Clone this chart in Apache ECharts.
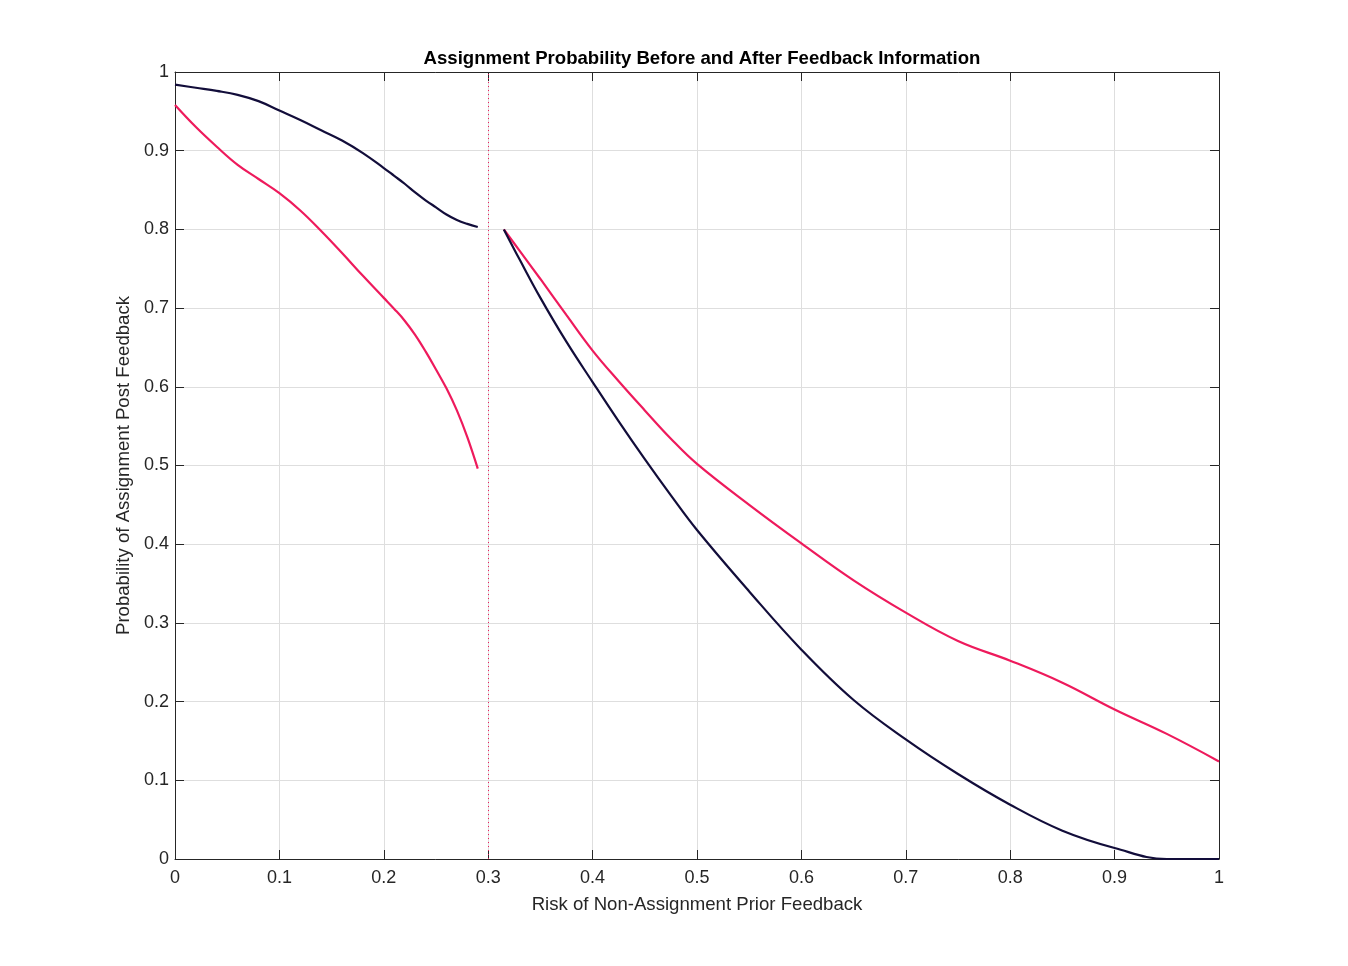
<!DOCTYPE html>
<html>
<head>
<meta charset="utf-8">
<script src="https://cdn.jsdelivr.net/npm/echarts@6/dist/echarts.min.js"></script>
<style>html,body{margin:0;padding:0;background:#fff;}#c{width:1348px;height:966px;}</style>
</head>
<body>
<div id="c"></div>
<script>
// Data
const xLeft    = [0, 0.02, 0.04, 0.06, 0.08, 0.1, 0.12, 0.14, 0.16, 0.18, 0.2, 0.21, 0.22, 0.23, 0.24, 0.25, 0.26, 0.27, 0.28, 0.29];
const darkLeft = [0.984, 0.980, 0.976, 0.971, 0.963, 0.951, 0.939, 0.926, 0.913, 0.897, 0.878, 0.868, 0.858, 0.847, 0.837, 0.828, 0.819, 0.812, 0.807, 0.803];
const pinkLeft = [0.958, 0.930, 0.905, 0.882, 0.864, 0.846, 0.824, 0.798, 0.770, 0.741, 0.713, 0.699, 0.684, 0.666, 0.645, 0.622, 0.598, 0.570, 0.536, 0.496];

const xRight    = [0.315, 0.33, 0.35, 0.375, 0.4, 0.425, 0.45, 0.475, 0.5, 0.55, 0.6, 0.65, 0.7, 0.75, 0.8, 0.85, 0.9, 0.95, 1.0];
const darkRight = [0.800, 0.762, 0.713, 0.657, 0.606, 0.556, 0.508, 0.462, 0.418, 0.340, 0.266, 0.202, 0.152, 0.108, 0.069, 0.036, 0.014, 0.000, 0.000];
const pinkRight = [0.800, 0.773, 0.737, 0.691, 0.646, 0.607, 0.570, 0.534, 0.502, 0.450, 0.401, 0.354, 0.313, 0.277, 0.252, 0.224, 0.190, 0.159, 0.124];

const thresholdX = 0.3;

const titleText = 'Assignment Probability Before and After Feedback Information';
const xName = 'Risk of Non-Assignment Prior Feedback';
const yName = 'Probability of Assignment Post Feedback';

const DARK = '#120d3a';
const PINK = '#ee1a5c';
const pair = (xs, ys) => xs.map((x, i) => [x, ys[i]]);

const font = 'Liberation Sans, Arial, Helvetica, sans-serif';
const axisCol = '#262626';

function mainAxis(pos, name, nameGap, labelMargin) {
  return {
    type: 'value', position: pos, min: 0, max: 1, interval: 0.1,
    name: name, nameLocation: 'middle', nameGap: nameGap,
    nameTextStyle: {fontFamily: font, fontSize: 18.6, color: axisCol},
    axisLine: {show: true, onZero: false, lineStyle: {color: axisCol, width: 1}},
    axisTick: {show: true, inside: true, length: 9, lineStyle: {color: axisCol, width: 1}},
    axisLabel: {fontFamily: font, fontSize: 18, color: axisCol, margin: labelMargin,
      formatter: v => String(Math.round(v * 10) / 10)},
    splitLine: {show: true, lineStyle: {color: '#dedede', width: 1}}
  };
}
function mirrorAxis(pos) {
  return {
    type: 'value', position: pos, min: 0, max: 1, interval: 0.1,
    axisLine: {show: true, onZero: false, lineStyle: {color: axisCol, width: 1}},
    axisTick: {show: true, inside: true, length: 9, lineStyle: {color: axisCol, width: 1}},
    axisLabel: {show: false},
    splitLine: {show: false}
  };
}

const chart = echarts.init(document.getElementById('c'), null, {renderer: 'canvas'});
const lineBase = {type: 'line', showSymbol: false, symbol: 'none', smooth: 0.4, animation: false, z: 3};

chart.setOption({
  backgroundColor: '#ffffff',
  animation: false,
  title: {
    text: titleText, left: 697, top: 44, textAlign: 'center',
    textStyle: {fontFamily: font, fontSize: 18.6, fontWeight: 'bold', color: '#000'}
  },
  grid: {left: 175, right: 129, top: 72, bottom: 107, containLabel: false},
  xAxis: [mainAxis('bottom', xName, 36, 10), mirrorAxis('top')],
  yAxis: [mainAxis('left', yName, 36, 6), mirrorAxis('right')],
  series: [
    Object.assign({}, lineBase, {
      name: 'darkL', data: pair(xLeft, darkLeft),
      lineStyle: {color: DARK, width: 2.2}, itemStyle: {color: DARK},
      markLine: {
        silent: true, symbol: ['none', 'none'], label: {show: false},
        lineStyle: {color: PINK, type: [1, 3], width: 1},
        data: [{xAxis: thresholdX}]
      }
    }),
    Object.assign({}, lineBase, {
      name: 'pinkL', data: pair(xLeft, pinkLeft),
      lineStyle: {color: PINK, width: 2.2}, itemStyle: {color: PINK}
    }),
    Object.assign({}, lineBase, {
      name: 'pinkR', data: pair(xRight, pinkRight),
      lineStyle: {color: PINK, width: 2.2}, itemStyle: {color: PINK}
    }),
    Object.assign({}, lineBase, {
      name: 'darkR', data: pair(xRight, darkRight),
      lineStyle: {color: DARK, width: 2.2}, itemStyle: {color: DARK}
    })
  ]
});
</script>
</body>
</html>
